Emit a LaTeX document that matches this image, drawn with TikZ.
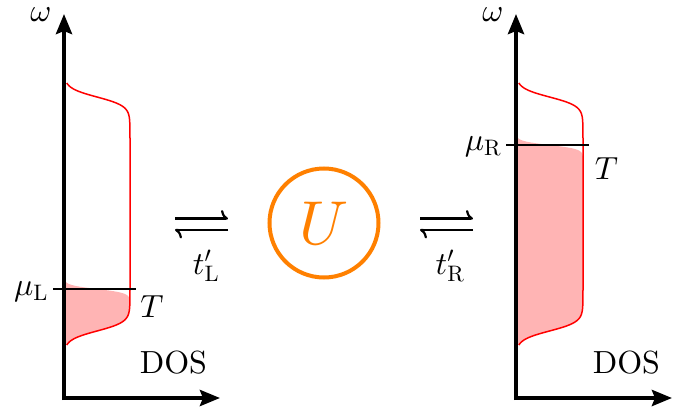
\documentclass[tikz,border=0pt]{standalone}
\usepackage{amsmath}
\DeclareFontShape{OML}{cmm}{m}{it}{<->cmmi10}{}
\DeclareFontShape{OMS}{cmsy}{m}{n}{<->cmsy10}{}
\DeclareFontShape{OT1}{cmr}{m}{n}{<->cmr10}{}
\usetikzlibrary{arrows.meta}
\definecolor{dosfill}{RGB}{255,180,180}
\begin{document}
\begin{tikzpicture}[x=1pt,y=-1pt,
  font=\fontencoding{OT1}\fontfamily{cmr}\fontsize{32}{38}\selectfont,
  declare function={
    clampexp(\z)=exp(max(-9,min(9,\z)));
    dos(\t)=1/(1+clampexp(-(\t-97)/4.5))/(1+clampexp((\t-331)/4.5));
    fermi(\t,\m)=1/(1+clampexp(-(\t-\m)/2));
  },
  axis/.style={line width=4pt,-{Stealth[length=20pt,width=16pt,inset=3pt]}},
  dosline/.style={red,line width=1.5pt},
  muline/.style={line width=2pt},
  harp/.style={line width=2.2pt,-{Computer Modern Rightarrow[harpoon,length=7pt,width=17pt,line width=2.2pt]}},
  lbl/.style={inner sep=0pt}
]
\useasboundingbox (0,0) rectangle (694,412);

% ---------- left panel ----------
\fill[dosfill] plot[domain=277:345,samples=120,variable=\t] ({64+66*dos(\t)*fermi(\t,289)},\t) -- (64,345) -- cycle;
\draw[dosline] plot[domain=83:345,samples=220,variable=\t] ({64+66*dos(\t)},\t);
\coordinate (muLa) at (53,289);
\coordinate (muLb) at (136,289);
\draw[muline] (muLa) -- (muLb);
\coordinate (oLv) at (64,400);
\coordinate (oLh) at (62,398);
\coordinate (yL) at (64,14);
\coordinate (xL) at (220,398);
\draw[axis] (oLv) -- (yL);
\draw[axis] (oLh) -- (xL);
\node[lbl] (wL) at (41,15) {$\omega$};
\node[lbl] (muL) at (31,292) {$\mu_{\mathrm{L}}$};
\node[lbl] (TL) at (152,307) {$T$};
\node[lbl] (dosL) at (173.5,363) {DOS};

% ---------- right panel ----------
\fill[dosfill] plot[domain=133:345,samples=200,variable=\t] ({516+67*dos(\t)*fermi(\t,145)},\t) -- (516,345) -- cycle;
\draw[dosline] plot[domain=83:345,samples=220,variable=\t] ({516+67*dos(\t)},\t);
\coordinate (muRa) at (506,145);
\coordinate (muRb) at (589,145);
\draw[muline] (muRa) -- (muRb);
\coordinate (oRv) at (516,400);
\coordinate (oRh) at (514,398);
\coordinate (yR) at (516,14);
\coordinate (xR) at (672,398);
\draw[axis] (oRv) -- (yR);
\draw[axis] (oRh) -- (xR);
\node[lbl] (wR) at (493,15) {$\omega$};
\node[lbl] (muR) at (483,147) {$\mu_{\mathrm{R}}$};
\node[lbl] (TR) at (606.5,168.5) {$T$};
\node[lbl] (dosR) at (626.5,363) {DOS};

% ---------- centre ----------
\node[circle,draw=orange,line width=4pt,minimum size=109pt,inner sep=0pt,text=orange,
      font=\fontsize{62}{68}\selectfont] (U) at (324,223) {$U$};

\coordinate (hLtl) at (175,218.5);
\coordinate (hLtr) at (228,218.5);
\coordinate (hLbl) at (175,230);
\coordinate (hLbr) at (228,230);
\draw[harp] (hLtl) -- (hLtr);
\draw[harp] (hLbr) -- (hLbl);
\node[lbl] (tL) at (206,266) {$t'_{\mathrm{L}}$};

\coordinate (hRtl) at (420,218.5);
\coordinate (hRtr) at (473,218.5);
\coordinate (hRbl) at (420,230);
\coordinate (hRbr) at (473,230);
\draw[harp] (hRtl) -- (hRtr);
\draw[harp] (hRbr) -- (hRbl);
\node[lbl] (tR) at (450,266) {$t'_{\mathrm{R}}$};
\end{tikzpicture}
\end{document}
